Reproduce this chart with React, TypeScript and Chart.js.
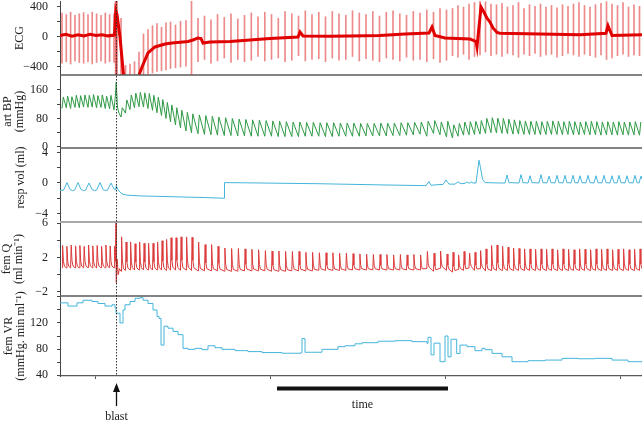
import { useEffect, useRef } from "react";
import { Chart, registerables } from "chart.js";

Chart.register(...registerables);

// ---------- data (x = recording time in trace units) ----------
const xTicks = [35, 210, 385, 560];
const blastT = 56;
const timeBar = [217, 388];

// heart beats (shared by ECG, arterial BP and femoral flow)
const beatT = [
  2, 6.3, 10.6, 15, 19.3, 23.6, 28, 32.2, 36.6, 41, 45.3, 49.6, 54,
  61, 65.5, 70, 74.5, 79, 83.5, 88, 92.5, 97, 101.5, 106, 110.5, 115.5, 120.5, 126, 131.5,
  138, 144.5, 151, 157.5, 164.3, 171, 177.8, 184.5, 191.3, 198, 204.8, 211.5, 218.3, 225, 231.8, 238.5, 245.3, 252, 258.8, 265.5,
  272.3, 279, 285.8, 292.5, 299.3, 306, 312.8, 319.5, 326.3, 333, 339.8, 346.5, 353.3, 360, 366.8, 373.5, 380, 386.5,
  392.5, 398, 403.5, 409, 414.5, 420, 425.5, 431, 436.5, 442, 447.5, 453, 458.5, 464, 469.5, 475, 480.5, 486, 491.5, 497,
  502.5, 508, 513.5, 519, 524.5, 530, 535.5, 541, 546.5, 552, 557.5, 563, 568.5, 574, 579.5,
];

// ECG
const ecgHi = [
  320, 300, 330, 290, 310, 325, 300, 330, 310, 290, 320, 300, 310,
  250, -380, -360, -330, -200, 40, 100, 150, 180, 130, 190, 200, 160, 210, 220, 480,
  250, 280, 230, 300, 260, 310, 240, 290, 320, 270, 330, 300, 250, 340, 310, 280, 350, 300, 330, 270,
  340, 310, 290, 350, 320, 300, 340, 280, 330, 350, 310, 290, 340, 320, 360, 330, 380, 360,
  380, 420, 400, 440, 460, 480, 470, 440, 430, 450, 400, 420, 460, 380, 430, 410, 440, 400, 420, 390,
  430, 410, 440, 460, 420, 400, 430, 450, 470, 440, 420, 460, 400, 430, 410,
];
const ecgLo = [
  -350, -330, -360, -320, -340, -350, -330, -360, -340, -320, -350, -330, -340,
  -507, -507, -507, -507, -507, -507, -507, -480, -460, -450, -440, -420, -410, -400, -390, -507,
  -330, -300, -350, -320, -280, -340, -300, -330, -310, -260, -320, -300, -280, -330, -310, -250, -320, -300, -290, -330,
  -280, -310, -300, -260, -320, -290, -310, -330, -280, -300, -320, -270, -310, -300, -330, -290, -340, -310,
  -250, -270, -230, -300, -260, -240, -200, -250, -230, -260, -220, -240, -270, -230, -250, -220, -260, -240, -230, -270,
  -250, -220, -240, -260, -230, -250, -270, -240, -300, -280, -250, -230, -260, -240, -250,
];
const ecgBlastT = [55.6, 56.3, 57];
const ecgBlastLo = [-507, -507, -507];
const ecgBlastHi = [480, 480, 480];
// baseline trace; null = trace off-scale (below the panel)
const ecgBaseT = [
  0, 6, 12, 18, 24, 30, 36, 42, 48, 54.5, 55.8, 57, 58.5, 60, 63.5, 70, 79, 82, 88, 95, 105,
  112, 128, 133, 138, 141, 143, 150, 170, 190, 210, 238, 240, 243, 270, 290, 320, 345, 369, 372, 375,
  385, 410, 416, 417, 421, 424, 427, 430, 433, 437, 440, 480, 520, 546, 548, 552, 582,
];
const ecgBaseV = [
  20, 35, 10, 30, 15, 35, 20, 30, 15, 25, 350, 300, 150, 0, -507, null, -507, -400, -213, -133, -93,
  -80, -60, -40, -13, -20, -80, -67, -60, -40, -20, 0, 67, 13, 10, 13, 20, 40, 53, 133, 20,
  -13, -27, -60, -133, 400, 330, 250, 200, 120, 60, 50, 40, 30, 50, 150, 20, 30,
];

// arterial BP (mmHg)
const bpSys = [
  140, 143, 141, 145, 144, 146, 145, 147, 144, 146, 143, 145, 140,
  110, 132, 146, 151, 153, 152, 150, 145, 140, 133, 125, 118, 110, 103, 97, 93,
  90, 88, 86, 84, 82, 80, 78, 77, 76, 75, 74, 73, 72, 71, 70, 70, 69, 69, 68, 68,
  68, 67, 67, 67, 66, 66, 66, 67, 67, 67, 68, 68, 69, 70, 72, 74, 70, 72,
  62, 66, 70, 71, 72, 74, 80, 82, 81, 80, 78, 76, 74, 73, 72, 72, 71, 72, 73, 72,
  71, 72, 71, 70, 71, 72, 71, 70, 71, 70, 71, 70, 70, 71, 70,
];
const bpDia = [
  108, 110, 108, 111, 110, 112, 111, 112, 110, 111, 108, 107, 104,
  84, 95, 105, 110, 113, 112, 108, 103, 96, 88, 80, 71, 62, 53, 45, 40,
  37, 35, 34, 33, 32, 32, 31, 31, 30, 30, 30, 30, 29, 29, 29, 29, 30, 30, 30, 29,
  29, 30, 30, 30, 30, 31, 31, 31, 31, 32, 32, 33, 34, 36, 30, 38, 34, 28,
  25, 30, 33, 34, 35, 36, 38, 40, 39, 38, 37, 36, 36, 35, 35, 35, 34, 35, 35, 35,
  34, 35, 34, 34, 35, 34, 34, 33, 34, 34, 33, 34, 33, 34, 33,
];
const bpArtT = [56.2, 57.5, 59];
const bpArtV = [182, 110, 95];

// respiratory volume (ml)
const respT = [
  0, 3.5, 7, 10, 12.5, 14.5, 18, 21, 23.5, 25.5, 29, 32, 34.5, 36.5, 40, 43, 45.5, 47.5, 51, 54,
  55.5, 56.3, 58, 62, 67, 80, 110, 140, 164, 164.5, 200, 260, 320, 366, 369, 371, 380, 383, 386, 389,
  395, 398, 401, 405, 407, 409, 411, 413, 416, 419, 420.5, 422.5, 425, 440,
  445, 447, 449, 459, 461, 463, 468, 470, 472, 479, 481, 483, 487, 489, 491, 495, 497, 499,
  503, 505, 507, 511, 513, 515, 518, 520, 522, 526, 528, 530, 534, 536, 538, 542, 544, 546,
  550, 552, 554, 557, 559, 561, 565, 567, 569, 573, 575, 577, 579, 581, 582,
];
const respV = [
  -1.0, -0.95, 0.05, -0.85, -1.0, -0.95, 0.05, -0.85, -1.0, -0.95, 0.0, -0.85, -1.0, -0.95, 0.05, -0.85, -1.0, -0.95, 0.0, -0.8,
  -0.9, -0.35, -0.9, -1.45, -1.6, -1.7, -1.8, -1.9, -2.0, 0.05, 0.0, -0.1, -0.25, -0.35, 0.2, -0.3, -0.2, -0.2, 0.4, -0.15,
  -0.15, 0.15, -0.1, -0.05, 0.15, -0.05, 0.15, 0.0, 0.0, 3.0, 2.0, 0.5, 0.05, 0.0,
  0.0, 1.05, 0.05, 0.0, 1.1, 0.05, 0.0, 0.95, 0.05, 0.0, 1.1, 0.05, 0.0, 0.9, 0.05, 0.0, 1.0, 0.05,
  0.0, 1.0, 0.05, 0.0, 1.0, 0.05, 0.0, 0.95, 0.05, 0.0, 1.0, 0.05, 0.0, 0.95, 0.05, 0.0, 1.0, 0.05,
  0.0, 0.95, 0.05, 0.0, 1.0, 0.05, 0.0, 0.95, 0.05, 0.0, 1.0, 0.05, 0.0, 0.9, 0.5,
];

// femoral flow (ml/min)
const qPeak = [
  3.4, 3.3, 3.45, 3.35, 3.4, 3.3, 3.45, 3.35, 3.4, 3.3, 3.45, 3.35, 3.3,
  4.4, 3.8, 3.8, 3.6, 3.8, 3.65, 3.65, 3.65, 3.8, 3.95, 4.1, 4.3, 4.3, 4.4, 4.4, 4.35,
  3.8, 3.5, 3.5, 3.3, 3.1, 3.05, 3.05, 3.0, 2.95, 2.9, 2.8, 2.75, 2.75, 2.7, 2.7, 2.7, 2.6, 2.6, 2.55, 2.55,
  2.55, 2.5, 2.5, 2.45, 2.4, 2.4, 2.35, 2.35, 2.35, 2.3, 2.35, 2.3, 2.35, 2.3, 2.7, 2.5, 2.75, 2.4,
  2.6, 2.3, 2.7, 2.5, 2.6, 2.8, 3.0, 3.4, 3.45, 3.3, 3.2, 3.1, 3.05, 3.0, 3.0, 2.95, 3.0, 2.95, 3.0, 2.9,
  3.0, 2.95, 2.9, 3.0, 2.95, 2.9, 3.0, 2.95, 3.0, 2.9, 2.95, 3.0, 2.9, 2.95, 3.0,
];
const qLow = [
  0.8, 0.78, 0.8, 0.8, 0.78, 0.8, 0.82, 0.8, 0.78, 0.8, 0.8, 0.78, 0.8,
  0.4, 0.5, 0.55, 0.55, 0.55, 0.55, 0.55, 0.55, 0.55, 0.55, 0.5, 0.55, 0.55, 0.5, 0.55, 0.5,
  0.45, 0.45, 0.45, 0.45, 0.4, 0.4, 0.4, 0.45, 0.45, 0.45, 0.45, 0.4, 0.4, 0.4, 0.45, 0.45, 0.45, 0.45, 0.5, 0.5,
  0.5, 0.5, 0.5, 0.55, 0.55, 0.55, 0.55, 0.55, 0.55, 0.55, 0.55, 0.55, 0.55, 0.55, 0.7, 0.4, 0.75, 0.5,
  0.3, 0.6, 0.5, 0.8, 0.5, 0.7, 0.45, 0.5, 0.5, 0.5, 0.5, 0.5, 0.5, 0.5, 0.5, 0.5, 0.5, 0.5, 0.5, 0.5,
  0.5, 0.5, 0.5, 0.5, 0.5, 0.5, 0.5, 0.5, 0.5, 0.5, 0.5, 0.5, 0.5, 0.5, 0.5,
];
const qArtT = [56, 56.4, 57.2, 58.2, 59.5];
const qArtV = [6.1, -0.9, 1.8, 0.0, 0.7];

// femoral vascular resistance (mmHg min/ml), stepwise
const vrT = [
  0, 8, 17, 23, 32, 38, 45, 52, 55, 56, 60, 63, 65, 70, 75, 80, 83, 88, 93, 97,
  99, 101, 104, 108, 113, 118, 123, 128, 135, 142, 148, 155, 162, 175, 188, 202, 222, 241, 242, 245,
  262, 278, 285, 295, 302, 318, 335, 352, 367, 368, 371, 374, 380, 385, 388, 391, 396.7, 400, 407, 415,
  422, 425, 432, 442, 452, 468, 485, 502, 518, 535, 552, 568, 582,
];
const vrV = [
  151, 146, 151, 155, 153, 150, 146, 148, 143, 135, 120, 140, 148, 153, 158, 159, 155, 150, 140, 130,
  127, 86, 115, 112, 107, 102, 81, 79.5, 81, 79, 85, 82, 79.5, 77.5, 76, 74.5, 73.5, 74.5, 96, 75,
  79.5, 83.6, 85, 88, 89.7, 92, 92.8, 91.3, 88.7, 98, 71, 89, 60.5, 100, 68, 95, 73, 86, 83.6, 77.4,
  81, 79, 73.3, 68, 60.5, 62, 63, 65.6, 65, 65.6, 63, 60.5, 59,
];

// ---------- chart ----------
const FONT = "'Liberation Serif', 'Times New Roman', Times, serif";
const fmt = (v: number) => (v < 0 ? "\u2212" + Math.abs(v) : String(v));
const pts = (xs: number[], ys: (number | null)[]) => xs.map((x, i) => ({ x, y: ys[i] }));
const byX = (a: { x: number; y: number }[]) => a.sort((p, q) => p.x - q.x);

function panel(weight: number, min: number, max: number, ticks: number[], majors: number[], title: string | string[], pad: number) {
  return {
    type: "linear",
    position: "left",
    stack: "panels",
    stackWeight: weight,
    min,
    max,
    offset: false,
    afterBuildTicks: (s: any) => {
      s.ticks = ticks.map((v) => ({ value: v }));
    },
    afterFit: (s: any) => {
      s.width = 60;
      s.paddingTop = 0;
      s.paddingBottom = 0;
    },
    ticks: {
      autoSkip: false,
      padding: 9,
      color: "#222",
      font: { family: FONT, size: 12 },
      callback: (v: any) => (majors.includes(Number(v)) ? fmt(Number(v)) : ""),
    },
    grid: { drawOnChartArea: false, drawTicks: true, tickLength: 3, color: "#444", offset: false },
    border: { display: true, color: "#444", width: 1 },
    title: {
      display: true,
      text: title,
      color: "#222",
      font: { family: FONT, size: 12, lineHeight: 1 },
      padding: { top: pad, bottom: 0 },
    },
  };
}

const decor = {
  id: "decor",
  afterDatasetsDraw(chart: any) {
    const { ctx, chartArea: ca, scales } = chart;
    ctx.save();
    const seps: [string, string, number][] = [
      ["yE", "#5a5a5a", 1.3],
      ["yB", "#5a5a5a", 1.3],
      ["yR", "#a8a8a8", 2],
      ["yQ", "#5a5a5a", 1.3],
    ];
    for (const [id, c, w] of seps) {
      const y = scales[id].bottom;
      ctx.strokeStyle = c;
      ctx.lineWidth = w;
      ctx.beginPath();
      ctx.moveTo(ca.left, y);
      ctx.lineTo(ca.right, y);
      ctx.stroke();
    }
    const bx = Math.round(scales.x.getPixelForValue(blastT)) + 0.5;
    ctx.strokeStyle = "#333";
    ctx.lineWidth = 1;
    ctx.setLineDash([1.5, 1.5]);
    ctx.beginPath();
    ctx.moveTo(bx, ca.top);
    ctx.lineTo(bx, ca.bottom);
    ctx.stroke();
    ctx.restore();
  },
  afterDraw(chart: any) {
    const { ctx, scales } = chart;
    const xs = scales.x;
    const bx = Math.round(xs.getPixelForValue(blastT)) + 0.5;
    ctx.save();
    ctx.fillStyle = "#111";
    ctx.strokeStyle = "#111";
    ctx.lineWidth = 1.3;
    ctx.beginPath();
    ctx.moveTo(bx, 389);
    ctx.lineTo(bx, 406);
    ctx.stroke();
    ctx.beginPath();
    ctx.moveTo(bx, 383);
    ctx.lineTo(bx - 3.5, 392);
    ctx.lineTo(bx + 3.5, 392);
    ctx.closePath();
    ctx.fill();
    const t0 = xs.getPixelForValue(timeBar[0]);
    const t1 = xs.getPixelForValue(timeBar[1]);
    ctx.fillRect(t0, 386.5, t1 - t0, 4);
    ctx.font = `12px ${FONT}`;
    ctx.fillStyle = "#222";
    ctx.textAlign = "center";
    ctx.textBaseline = "middle";
    ctx.fillText("blast", bx, 417);
    ctx.fillText("time", (t0 + t1) / 2, 405);
    ctx.restore();
  },
};

export default function App() {
  const ref = useRef<HTMLCanvasElement>(null);
  useEffect(() => {
    const ecgBase = pts(ecgBaseT, ecgBaseV);
    const ecgSpikes = beatT
      .map((t, i) => ({ x: t, y: [ecgLo[i], ecgHi[i]] }))
      .concat(ecgBlastT.map((t, i) => ({ x: t, y: [ecgBlastLo[i], ecgBlastHi[i]] })));

    const bp: { x: number; y: number }[] = [];
    beatT.forEach((t, i) => {
      bp.push({ x: t, y: bpDia[i] }, { x: t + 1.3, y: bpSys[i] });
    });
    bpArtT.forEach((t, i) => bp.push({ x: t, y: bpArtV[i] }));
    byX(bp);

    const q: { x: number; y: number }[] = [];
    beatT.forEach((t, i) => {
      const a = qLow[i];
      const p = qPeak[i];
      q.push({ x: t, y: a }, { x: t + 0.6, y: p }, { x: t + 1.4, y: a + (p - a) * 0.3 }, { x: t + 2.4, y: a + (p - a) * 0.08 });
    });
    qArtT.forEach((t, i) => q.push({ x: t, y: qArtV[i] }));
    byX(q);

    const line = (data: any, yAxisID: string, color: string, width = 1, extra: any = {}) => ({
      type: "line",
      data,
      yAxisID,
      xAxisID: "x",
      borderColor: color,
      borderWidth: width,
      pointRadius: 0,
      tension: 0,
      fill: false,
      spanGaps: false,
      ...extra,
    });

    const chart = new Chart(ref.current as HTMLCanvasElement, {
      type: "line",
      data: {
        datasets: [
          line(ecgBase, "yE", "#e00000", 3),
          {
            type: "bar",
            data: ecgSpikes,
            yAxisID: "yE",
            xAxisID: "x",
            backgroundColor: "rgba(222,20,20,0.5)",
            borderWidth: 0,
            barThickness: 1,
            grouped: false,
          },
          line(bp, "yB", "#2f9a45", 1),
          line(pts(respT, respV), "yR", "#45b4dc", 1),
          line(q, "yQ", "#dc3a3a", 1),
          line(pts(vrT, vrV), "yV", "#45b4dc", 1, { stepped: "before" }),
        ] as any,
      },
      options: {
        responsive: false,
        animation: false,
        events: [],
        layout: { padding: { top: 1, right: 0, bottom: 0, left: 0 } },
        plugins: { legend: { display: false }, tooltip: { enabled: false } },
        scales: {
          x: {
            type: "linear",
            position: "bottom",
            min: 0,
            max: 582,
            offset: false,
            afterBuildTicks: (s: any) => {
              s.ticks = xTicks.map((v) => ({ value: v }));
            },
            afterFit: (s: any) => {
              s.height = 49;
              s.paddingLeft = 0;
              s.paddingRight = 0;
            },
            ticks: { display: false },
            grid: { drawOnChartArea: false, drawTicks: true, tickLength: 3, color: "#555", offset: false },
            border: { display: true, color: "#5a5a5a", width: 1.3 },
          },
          // stacked panels are laid out bottom-up in definition order
          yV: panel(80, 38.5, 161.5, [160, 140, 120, 100, 80, 60, 40], [120, 80, 40], ["fem VR", "(mmHg. min ml\u207B\u00B9)"], 3),
          yQ: panel(74, -2.48, 6.13, [6, 4, 2, 0, -2], [6, 2, -2], ["fem Q", "(ml min\u207B\u00B9)"], 1),
          yR: panel(74, -5.13, 4.6, [4, 2, 0, -2, -4], [4, 0, -4], "     resp vol (ml)", 15),
          yB: panel(73, -3, 202, [160, 120, 80, 40, 0], [160, 80, 0], ["art BP", "(mmHg)"], 2),
          yE: panel(74, -507, 480, [400, 200, 0, -200, -400], [400, 0, -400], "ECG", 14),
        } as any,
      },
      plugins: [decor],
    } as any);
    return () => chart.destroy();
  }, []);
  return (
    <div style={{ position: "absolute", left: 0, top: 0, width: 642, height: 425, background: "#fff" }}>
      <canvas ref={ref} width={642} height={425} style={{ display: "block" }} />
    </div>
  );
}
